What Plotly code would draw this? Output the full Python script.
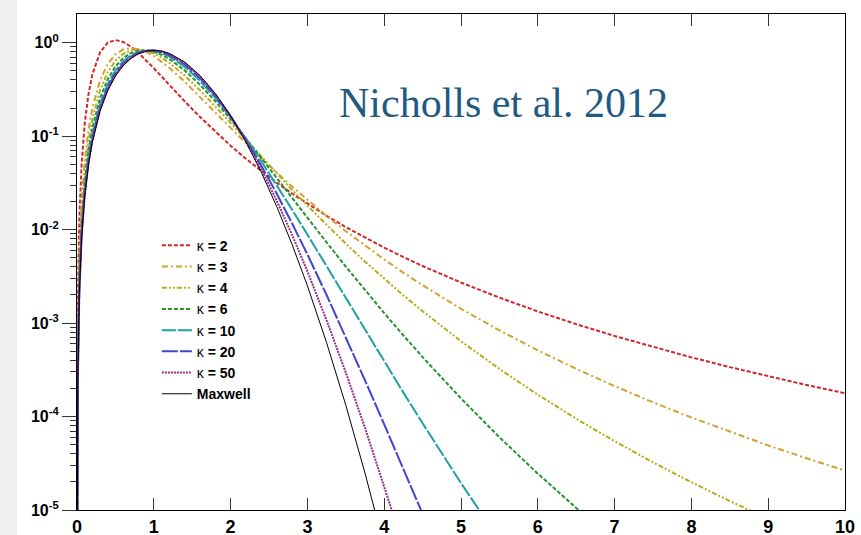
import plotly.graph_objects as go

# normalised speed v / v_th
speed = [0.0005, 0.003, 0.01, 0.03, 0.06, 0.1, 0.15, 0.2, 0.3, 0.4, 0.5, 0.6, 0.7, 0.8, 0.9,
         1.0, 1.1, 1.2, 1.4, 1.6, 1.8, 2.0, 2.2, 2.4, 2.6, 2.8, 3.0, 3.25, 3.5, 3.75, 4.0,
         4.25, 4.5, 5.0, 5.5, 6.0, 6.5, 7.0, 7.5, 8.0, 8.5, 9.0, 9.5, 10.0]

kappa_2 = [3.60e-6, 1.296e-4, 1.440e-3, 1.289e-2, 5.075e-2, 0.1357, 0.2840, 0.4574, 0.7891, 1.0021,
           1.0670, 1.0191, 0.9093, 0.7778, 0.6488, 0.5335, 0.4357, 0.3551, 0.2371, 0.1609, 0.1115,
           0.07904, 0.05723, 0.04228, 0.03181, 0.02434, 0.01890, 0.01405, 0.01064, 0.008199,
           0.006413, 0.005085, 0.004081, 0.002715, 0.001873, 0.001333, 0.0009737, 0.0007275,
           0.0005542, 0.0004295, 0.0003379, 0.0002694, 0.0002174, 0.0001774]
kappa_3 = [1.39e-6, 4.99e-5, 5.54e-4, 4.978e-3, 1.977e-2, 0.05399, 0.1175, 0.1996, 0.3953, 0.5914,
           0.7482, 0.8443, 0.8770, 0.8565, 0.7985, 0.7186, 0.6297, 0.5410, 0.3839, 0.2645, 0.1802,
           0.1227, 0.08409, 0.05820, 0.04076, 0.02892, 0.02078, 0.01400, 0.009620, 0.006729,
           0.004789, 0.003462, 0.002540, 0.001423, 0.0008356, 0.0005110, 0.0003241, 0.0002117,
           0.0001420, 9.760e-5, 6.855e-5, 4.908e-5, 3.575e-5, 2.645e-5]
kappa_4 = [1.03e-6, 3.71e-5, 4.12e-4, 3.704e-3, 1.4736e-2, 0.04042, 0.08870, 0.1523, 0.3109, 0.4838,
           0.6400, 0.7575, 0.8255, 0.8442, 0.8208, 0.7666, 0.6932, 0.6107, 0.4472, 0.3107, 0.2094,
           0.1388, 0.09147, 0.06032, 0.03998, 0.02671, 0.01802, 0.01118, 0.007065, 0.004543,
           0.002973, 0.001978, 0.001338, 0.0006400, 0.0003233, 0.0001714, 9.479e-5, 5.446e-5,
           3.236e-5, 1.982e-5, 1.247e-5, 8.03e-6]
kappa_6 = [8.13e-7, 2.93e-5, 3.25e-4, 2.923e-3, 1.1642e-2, 0.03202, 0.07066, 0.1223, 0.2548, 0.4074,
           0.5568, 0.6831, 0.7729, 0.8205, 0.8269, 0.7982, 0.7430, 0.6707, 0.5073, 0.3558, 0.2366,
           0.1516, 0.09485, 0.05848, 0.03579, 0.02187, 0.01338, 0.007297, 0.004024, 0.002250,
           0.001278, 0.0007374, 0.0004326, 0.0001563, 6.007e-5, 2.448e-5, 1.052e-5, 4.75e-6]
kappa_10 = [6.93e-7, 2.49e-5, 2.77e-4, 2.490e-3, 9.926e-3, 0.02735, 0.06054, 0.1052, 0.2220, 0.3610,
            0.5035, 0.6319, 0.7327, 0.7978, 0.8244, 0.8150, 0.7753, 0.7132, 0.5540, 0.3918, 0.2572,
            0.1593, 0.09424, 0.05386, 0.02999, 0.01639, 0.008850, 0.004054, 0.001850, 0.0008450,
            0.0003885, 0.0001803, 8.463e-5, 1.943e-5, 4.74e-6]
kappa_20 = [6.22e-7, 2.24e-5, 2.49e-4, 2.238e-3, 8.923e-3, 0.02461, 0.05459, 0.09514, 0.2023, 0.3323,
            0.4694, 0.5978, 0.7043, 0.7798, 0.8197, 0.8239, 0.7961, 0.7425, 0.5886, 0.4190, 0.2721,
            0.1632, 0.09148, 0.04834, 0.02429, 0.01169, 0.005431, 0.001997, 0.0007080, 0.0002441,
            8.251e-5, 2.752e-5, 9.10e-6]
kappa_50 = [5.86e-7, 2.11e-5, 2.34e-4, 2.108e-3, 8.408e-3, 0.02320, 0.05152, 0.08992, 0.1920, 0.3171,
            0.4509, 0.5788, 0.6880, 0.7689, 0.8160, 0.8280, 0.8073, 0.7592, 0.6093, 0.4355, 0.2807,
            0.1647, 0.08872, 0.04414, 0.02041, 0.008821, 0.003581, 0.001071, 0.0002953, 7.567e-5,
            1.817e-5, 4.12e-6]
maxwell = [5.64e-7, 2.03e-5, 2.26e-4, 2.029e-3, 8.095e-3, 0.02234, 0.04965, 0.08673, 0.1856, 0.3077,
           0.4394, 0.5668, 0.6774, 0.7616, 0.8132, 0.8302, 0.8143, 0.7700, 0.6230, 0.4466, 0.2864,
           0.1653, 0.08637, 0.04096, 0.01769, 0.006965, 0.002507, 0.0006166, 0.0001323, 2.479e-5,
           4.06e-6]

series_names = ["κ <b>= 2</b>", "κ <b>= 3</b>", "κ <b>= 4</b>", "κ <b>= 6</b>",
                "κ <b>= 10</b>", "κ <b>= 20</b>", "κ <b>= 50</b>", "<b>Maxwell</b>"]
series_values = [kappa_2, kappa_3, kappa_4, kappa_6, kappa_10, kappa_20, kappa_50, maxwell]
series_colors = ["#d02828", "#d6a030", "#b4ae1c", "#23952a", "#1fa0a4", "#4046d2", "#9a2a86", "#000000"]
series_dash = ["4px,2px", "6px,3px,2px,3px", "5px,2px,2px,2px,2px,2px", "4px,2px",
               "14px,2px", "16px,2px", "2px,1px", "solid"]
series_width = [2, 2, 2, 2, 2, 2, 2, 1]

x_ticks = list(range(0, 11))
y_ticks = [1e-5, 1e-4, 1e-3, 1e-2, 1e-1, 1]
y_ticktext = ["<b>10<sup>-5</sup></b>", "<b>10<sup>-4</sup></b>", "<b>10<sup>-3</sup></b>",
              "<b>10<sup>-2</sup></b>", "<b>10<sup>-1</sup></b>", "<b>10<sup>0</sup></b>"]

fig = go.Figure()
for name, ys, col, dash, w in zip(series_names, series_values, series_colors, series_dash, series_width):
    fig.add_trace(go.Scatter(x=speed[:len(ys)], y=ys, mode="lines", name=name,
                             line=dict(color=col, dash=dash, width=w)))

minor_vals = [m * 10.0 ** e for e in range(-5, 0) for m in range(2, 10)]

fig.update_layout(
    width=861, height=535,
    margin=dict(l=77, r=16, t=14, b=25, autoexpand=False),
    paper_bgcolor="#efefef", plot_bgcolor="white",
    font=dict(family="Liberation Sans", color="black"),
    showlegend=True,
    legend=dict(x=0.104, y=0.565, xanchor="left", yanchor="top",
                bgcolor="rgba(0,0,0,0)", font=dict(size=14, color="black"),
                itemwidth=30, tracegroupgap=0),
    xaxis=dict(range=[0, 10], tickmode="array", tickvals=x_ticks,
               ticktext=["<b>%d</b>" % v for v in x_ticks], automargin=False,
               ticks="inside", ticklen=12, tickwidth=1.3, tickcolor="#333",
               showline=True, linecolor="black", linewidth=1.3, mirror="ticks",
               showgrid=False, zeroline=False, tickfont=dict(size=18, color="black")),
    yaxis=dict(type="log", range=[-5, 0.307], tickmode="array", tickvals=y_ticks,
               ticktext=y_ticktext, automargin=False,
               ticks="outside", ticklen=14, tickwidth=1.3, tickcolor="#333",
               minor=dict(ticks="outside", ticklen=6, tickwidth=1.2, tickcolor="#333",
                          tickmode="array", tickvals=minor_vals, showgrid=False),
               showline=True, linecolor="black", linewidth=1.3, mirror=True,
               showgrid=False, zeroline=False, tickfont=dict(size=16, color="black")),
    annotations=[dict(text="Nicholls et al. 2012", xref="paper", yref="paper",
                      x=0.555, y=0.8206, xanchor="center", yanchor="middle", showarrow=False,
                      font=dict(family="Liberation Serif", size=42, color="#1f5a82"))],
    shapes=[dict(type="rect", xref="paper", yref="paper", x0=-0.078, x1=1.03,
                 y0=-0.06, y1=1.03, line=dict(width=0), fillcolor="white", layer="below")],
)

fig.write_html("out.html", config={"displayModeBar": False},
               post_script="document.body.style.margin='0px';document.body.style.overflow='hidden';")
